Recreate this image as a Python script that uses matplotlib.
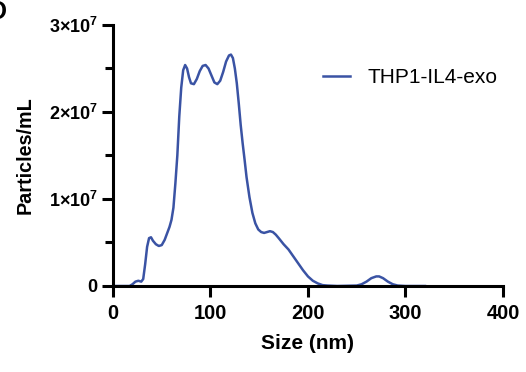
import numpy as np
import matplotlib.pyplot as plt
from matplotlib.ticker import MultipleLocator, FixedLocator, FixedFormatter

plt.rcParams['font.family'] = ['Liberation Sans', 'DejaVu Sans']
plt.rcParams['mathtext.fontset'] = 'custom'
plt.rcParams['mathtext.rm'] = 'Liberation Sans'
plt.rcParams['mathtext.bf'] = 'Liberation Sans:bold'

# NTA size distribution (size in nm, concentration in 1e6 particles/mL)
size_nm = [0, 10, 17, 20, 23, 26, 29, 31, 33, 35, 37, 39, 41, 44, 47, 50,
           53, 56, 58, 60, 62, 64, 66, 68, 70, 72, 74, 76, 78, 80, 83, 86,
           89, 92, 95, 98, 101, 104, 107, 110, 113, 116, 119, 121, 123, 125,
           127, 129, 131, 133, 135, 137, 140, 143, 146, 149, 152, 155, 158,
           161, 164, 167, 170, 175, 180, 185, 190, 195, 200, 205, 210, 215,
           220, 230, 250, 255, 260, 265, 270, 273, 277, 282, 287, 292, 300, 320]
conc_1e6 = [0, 0, 0, 0.2, 0.5, 0.6, 0.5, 0.8, 2.5, 4.5, 5.5, 5.6, 5.2, 4.8, 4.6, 4.7,
            5.3, 6.2, 6.8, 7.6, 9.0, 11.8, 15.0, 19.5, 22.8, 24.8, 25.4, 25.0, 24.0, 23.3, 23.2, 23.8,
            24.7, 25.3, 25.4, 25.0, 24.2, 23.4, 23.2, 23.6, 24.6, 25.8, 26.5, 26.6, 26.2, 25.0,
            23.3, 21.0, 18.5, 16.4, 14.5, 12.5, 10.2, 8.4, 7.2, 6.5, 6.2, 6.1, 6.2,
            6.3, 6.2, 5.9, 5.5, 4.8, 4.2, 3.4, 2.6, 1.8, 1.1, 0.6, 0.3, 0.1,
            0.05, 0, 0.05, 0.2, 0.5, 0.9, 1.1, 1.1, 0.9, 0.5, 0.2, 0.05, 0, 0]
series_name = 'THP1-IL4-exo'

y_ticks = [0, 1e7, 2e7, 3e7]
y_labels = ['0', r'$\mathbf{1{\times}10^7}$', r'$\mathbf{2{\times}10^7}$', r'$\mathbf{3{\times}10^7}$']

fig = plt.figure(figsize=(5.26, 3.72), dpi=100)
ax = fig.add_axes([0.2148, 0.2312, 0.7414, 0.7016])

ax.plot(size_nm, np.array(conc_1e6) * 1e6, color='#3a53a4', lw=1.8, label=series_name)

ax.set_xlim(0, 400)
ax.set_ylim(0, 3e7)
ax.xaxis.set_major_locator(MultipleLocator(100))
ax.yaxis.set_major_locator(FixedLocator(y_ticks))
ax.yaxis.set_major_formatter(FixedFormatter(y_labels))
ax.yaxis.set_minor_locator(MultipleLocator(5e6))

for side in ['top', 'right']:
    ax.spines[side].set_visible(False)
for side in ['left', 'bottom']:
    ax.spines[side].set_linewidth(2.2)

ax.tick_params(which='major', length=8, width=2.2, pad=3)
ax.tick_params(which='minor', length=6, width=2.2)
ax.tick_params(axis='x', labelsize=14.5, pad=5)
ax.tick_params(axis='y', labelsize=13)
for lab in ax.get_xticklabels() + ax.get_yticklabels():
    lab.set_fontweight('bold')

ax.set_xlabel('Size (nm)', fontsize=15, fontweight='bold', labelpad=8)
ax.set_ylabel('Particles/mL', fontsize=14.2, fontweight='bold', labelpad=10)

ax.legend(loc='upper right', bbox_to_anchor=(1.033, 0.907), frameon=False,
          fontsize=15, handlelength=1.3, handletextpad=0.8)

fig.text(-0.022, 1.0, 'D', fontsize=18, fontweight='bold', va='top', ha='left')

fig.savefig('out.png', dpi=100)
